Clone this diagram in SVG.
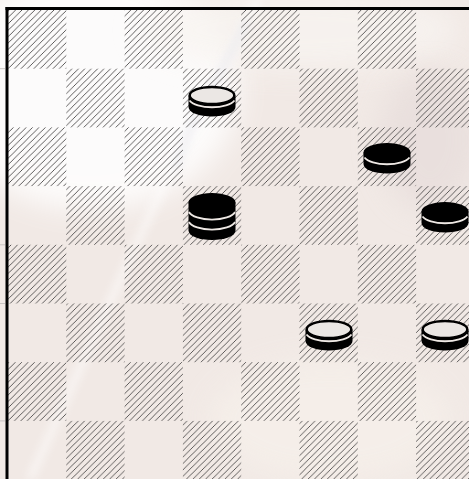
<svg xmlns="http://www.w3.org/2000/svg" width="469" height="479" viewBox="0 0 469 479">
  <defs>
    <style>
      .hatch { fill: url(#hatchPat); }
      .border { fill: #000; }
      .body { fill: #000; }
      .stripe { fill: none; stroke: #eee8e4; stroke-width: 1.8; }
      .topW { fill: #ebe7e4; stroke: #000; stroke-width: 2.4; }
      .topB { fill: #000; }
      .tick { stroke: #c8c3c1; stroke-width: 1; }
    </style>
    <pattern id="hatchPat" patternUnits="userSpaceOnUse" width="6.4" height="6.4">
      <path d="M0,6.4 L6.4,0 M-1,1 L1,-1 M5.4,7.4 L7.4,5.4" stroke="#4e4c4c" stroke-width="0.9" fill="none"/>
    </pattern>
    <filter id="blur" x="-50%" y="-50%" width="200%" height="200%">
      <feGaussianBlur stdDeviation="14"/>
    </filter>
    <filter id="blurS" x="-50%" y="-50%" width="200%" height="200%">
      <feGaussianBlur stdDeviation="4"/>
    </filter>
    <g id="whitePiece">
      <path class="body" d="M-23.5,0 V11.5 A23.5,9.5 0 0 0 23.5,11.5 V0 Z"/>
      <path class="stripe" d="M-22.5,5 A23.5,9.5 0 0 0 22.5,5"/>
      <ellipse class="topW" rx="22.3" ry="8.5"/>
    </g>
    <g id="blackPiece">
      <path class="body" d="M-23.5,0 V11.5 A23.5,9.5 0 0 0 23.5,11.5 V0 Z"/>
      <path class="stripe" d="M-22.5,5 A23.5,9.5 0 0 0 22.5,5"/>
      <ellipse class="topB" rx="23.5" ry="9.5"/>
    </g>
    <g id="blackKing">
      <path class="body" d="M-23.5,0 V28 A23.5,9.5 0 0 0 23.5,28 V0 Z"/>
      <path class="stripe" d="M-23,9.5 A23.5,9.5 0 0 0 23,9.5"/>
      <path class="stripe" d="M-23,19.5 A23.5,9.5 0 0 0 23,19.5"/>
      <ellipse class="topB" rx="23.5" ry="9.5"/>
    </g>
  </defs>

  <g id="background">
    <rect x="0" y="0" width="469" height="479" fill="#f1e9e5"/>
    <ellipse cx="90" cy="90" rx="150" ry="120" fill="#ffffff" opacity="0.85" filter="url(#blur)"/>
    <ellipse cx="300" cy="30" rx="160" ry="40" fill="#f8f4f1" opacity="0.8" filter="url(#blur)"/>
    <ellipse cx="430" cy="140" rx="50" ry="70" fill="#e6dcda" opacity="0.7" filter="url(#blur)"/>
    <ellipse cx="330" cy="420" rx="120" ry="60" fill="#f6f0ea" opacity="0.8" filter="url(#blur)"/>
    <path d="M258,0 L180,150 L120,280 L30,479" stroke="#ffffff" stroke-width="8" fill="none" opacity="0.5" filter="url(#blurS)"/>
    <path d="M248,20 L190,130 L175,170" stroke="#dcdce4" stroke-width="6" fill="none" opacity="0.5" filter="url(#blurS)"/>
  </g>

  <g id="board">
    <rect class="hatch" x="8" y="10" width="58.3" height="58.7"/>
    <rect class="hatch" x="124.6" y="10" width="58.3" height="58.7"/>
    <rect class="hatch" x="241.2" y="10" width="58.3" height="58.7"/>
    <rect class="hatch" x="357.8" y="10" width="58.3" height="58.7"/>

    <rect class="hatch" x="66.3" y="68.7" width="58.3" height="58.7"/>
    <rect class="hatch" x="182.9" y="68.7" width="58.3" height="58.7"/>
    <rect class="hatch" x="299.5" y="68.7" width="58.3" height="58.7"/>
    <rect class="hatch" x="416.1" y="68.7" width="58.3" height="58.7"/>

    <rect class="hatch" x="8" y="127.4" width="58.3" height="58.7"/>
    <rect class="hatch" x="124.6" y="127.4" width="58.3" height="58.7"/>
    <rect class="hatch" x="241.2" y="127.4" width="58.3" height="58.7"/>
    <rect class="hatch" x="357.8" y="127.4" width="58.3" height="58.7"/>

    <rect class="hatch" x="66.3" y="186.1" width="58.3" height="58.7"/>
    <rect class="hatch" x="182.9" y="186.1" width="58.3" height="58.7"/>
    <rect class="hatch" x="299.5" y="186.1" width="58.3" height="58.7"/>
    <rect class="hatch" x="416.1" y="186.1" width="58.3" height="58.7"/>

    <rect class="hatch" x="8" y="244.8" width="58.3" height="58.7"/>
    <rect class="hatch" x="124.6" y="244.8" width="58.3" height="58.7"/>
    <rect class="hatch" x="241.2" y="244.8" width="58.3" height="58.7"/>
    <rect class="hatch" x="357.8" y="244.8" width="58.3" height="58.7"/>

    <rect class="hatch" x="66.3" y="303.5" width="58.3" height="58.7"/>
    <rect class="hatch" x="182.9" y="303.5" width="58.3" height="58.7"/>
    <rect class="hatch" x="299.5" y="303.5" width="58.3" height="58.7"/>
    <rect class="hatch" x="416.1" y="303.5" width="58.3" height="58.7"/>

    <rect class="hatch" x="8" y="362.2" width="58.3" height="58.7"/>
    <rect class="hatch" x="124.6" y="362.2" width="58.3" height="58.7"/>
    <rect class="hatch" x="241.2" y="362.2" width="58.3" height="58.7"/>
    <rect class="hatch" x="357.8" y="362.2" width="58.3" height="58.7"/>

    <rect class="hatch" x="66.3" y="420.9" width="58.3" height="58.7"/>
    <rect class="hatch" x="182.9" y="420.9" width="58.3" height="58.7"/>
    <rect class="hatch" x="299.5" y="420.9" width="58.3" height="58.7"/>
    <rect class="hatch" x="416.1" y="420.9" width="58.3" height="58.7"/>

    <line class="tick" x1="0" y1="68.7" x2="5" y2="68.7"/>
    <line class="tick" x1="0" y1="244.8" x2="5" y2="244.8"/>
    <line class="tick" x1="0" y1="303.5" x2="5" y2="303.5"/>
    <line class="tick" x1="0" y1="420.9" x2="5" y2="420.9"/>

    <rect class="border" x="5.5" y="7" width="464" height="3"/>
    <rect class="border" x="5.5" y="7" width="3" height="472"/>
  </g>

  <g id="pieces">
    <g id="white-r1c3"><use href="#whitePiece" x="212" y="95.5"/></g>
    <g id="black-r2c6"><use href="#blackPiece" x="387" y="152.5"/></g>
    <g id="blackking-r3c3"><use href="#blackKing" x="212" y="202.5"/></g>
    <g id="black-r3c7"><use href="#blackPiece" x="445" y="211.5"/></g>
    <g id="white-r5c5"><use href="#whitePiece" x="329" y="329.5"/></g>
    <g id="white-r5c7"><use href="#whitePiece" x="445" y="329.5"/></g>
  </g>
</svg>
